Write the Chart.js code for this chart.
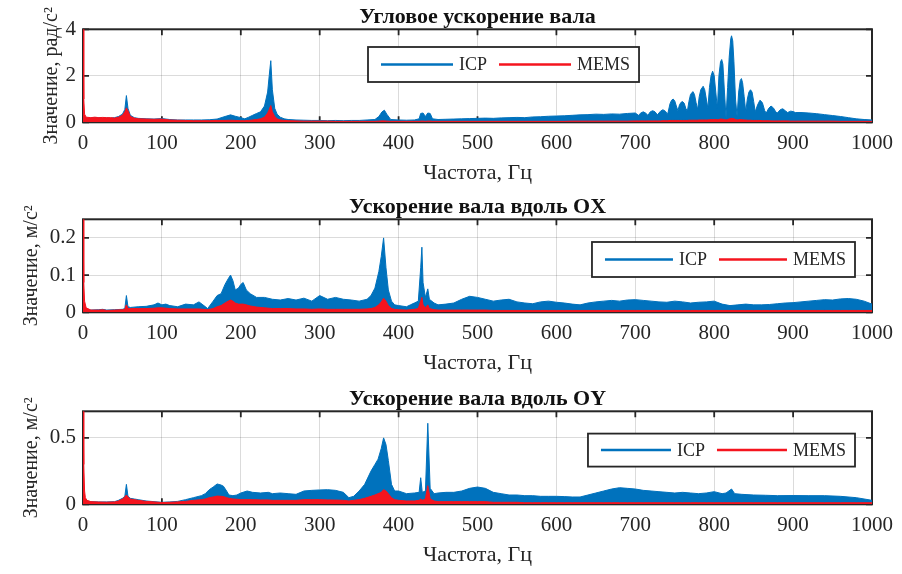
<!DOCTYPE html>
<html><head><meta charset="utf-8">
<script src="https://cdn.jsdelivr.net/npm/chart.js@4.4.1/dist/chart.umd.min.js"></script>
<style>
html,body{margin:0;padding:0;background:#fff;}
body{width:902px;height:574px;position:relative;overflow:hidden;}
canvas{position:absolute;left:0;}
</style></head><body>
<canvas id="c1" width="902" height="190" style="top:0px"></canvas>
<canvas id="c2" width="902" height="190" style="top:190px"></canvas>
<canvas id="c3" width="902" height="190" style="top:382px"></canvas>
<script>
// ---------- text ----------
const TITLES = ['Угловое ускорение вала', 'Ускорение вала вдоль OX', 'Ускорение вала вдоль OY'];
const Y_TITLES = ['Значение, рад/с²', 'Значение, м/с²', 'Значение, м/с²'];
const X_TITLE = 'Частота, Гц';
const SERIES = ['ICP', 'MEMS'];
const X_TICKS = [0,100,200,300,400,500,600,700,800,900,1000];
const Y_TICKS1 = [0,2,4];
const Y_TICKS2 = [0,0.1,0.2];
const Y_TICKS3 = [0,0.5];
const Y_MAX = [4, 0.25, 0.7];

// ---------- panel 1: angular acceleration ----------
const freq1 = [0,1,2,4,10,15,20,25,30,35,
  40,45,50,53,55,57,60,65,70,80,
  90,100,110,120,130,140,150,160,170,180,
  187,193,200,205,210,215,220,225,230,234,
  236,238,240,243,246,250,255,260,270,280,
  290,300,310,320,330,340,350,360,370,375,
  379,382,385,390,400,410,420,426,428,431,
  434,437,440,443,450,460,470,480,490,500,
  510,520,530,540,550,560,570,580,590,600,
  610,620,630,640,650,660,670,680,690,700,
  704,707,710,713,716,719,722,725,728,732,
  735,738,741,744,746,748,750,752,754,756,
  758,760,762,764,766,768,770,773,775,777,
  779,781,783,786,788,790,792,794,796,798,
  800,802,804,806,808,809.5,811,813,815,817,
  819,821,822,823.5,825,827,829,831,833,834.5,
  836,838,840,842,844,846,848,850,852,855,
  858,861,864,866,869,872,875,878,880,884,
  887,890,893,897,900,903,910,920,930,940,
  950,960,970,980,990,1000];
const icp1 = [0.3,0.25,0.2,0.18,0.18,0.2,0.2,0.18,0.19,0.18,
  0.2,0.25,0.35,0.55,1.15,0.6,0.3,0.2,0.17,0.15,
  0.14,0.16,0.12,0.1,0.1,0.1,0.1,0.11,0.14,0.25,
  0.32,0.26,0.2,0.15,0.22,0.3,0.38,0.45,0.7,1.3,
  2.0,2.65,1.4,0.6,0.35,0.22,0.15,0.12,0.1,0.09,
  0.08,0.08,0.07,0.08,0.07,0.08,0.08,0.1,0.12,0.25,
  0.45,0.52,0.35,0.12,0.1,0.09,0.1,0.15,0.38,0.4,
  0.25,0.4,0.38,0.15,0.12,0.13,0.14,0.15,0.16,0.17,
  0.18,0.17,0.19,0.2,0.21,0.2,0.23,0.24,0.26,0.27,
  0.28,0.3,0.32,0.33,0.35,0.34,0.36,0.35,0.38,0.4,
  0.3,0.4,0.45,0.4,0.3,0.45,0.5,0.45,0.32,0.48,
  0.54,0.48,0.35,0.8,0.95,1.0,0.92,0.7,0.5,0.75,
  0.86,0.89,0.82,0.6,0.48,0.9,1.2,1.32,1.2,0.85,
  0.55,1.1,1.4,1.55,1.4,1.0,0.6,1.5,2.0,2.2,
  2.0,1.3,0.6,2.0,2.6,2.7,2.5,1.3,0.2,1.5,
  2.8,3.6,3.72,3.5,2.6,1.0,0.25,1.3,1.8,1.88,
  1.7,1.1,0.45,1.0,1.3,1.4,1.3,0.9,0.45,0.75,
  0.95,0.85,0.5,0.4,0.6,0.7,0.62,0.45,0.4,0.55,
  0.58,0.5,0.42,0.48,0.46,0.42,0.42,0.4,0.37,0.33,
  0.29,0.25,0.2,0.15,0.12,0.1];
const mems1 = [4.0,1.0,0.35,0.22,0.2,0.22,0.2,0.21,0.2,0.2,
  0.18,0.22,0.3,0.45,0.62,0.5,0.25,0.18,0.15,0.14,
  0.13,0.14,0.1,0.09,0.08,0.07,0.07,0.07,0.08,0.08,
  0.09,0.08,0.07,0.07,0.08,0.1,0.12,0.15,0.22,0.4,
  0.55,0.72,0.45,0.25,0.15,0.1,0.08,0.07,0.06,0.05,
  0.05,0.05,0.05,0.04,0.04,0.04,0.04,0.04,0.04,0.05,
  0.06,0.06,0.05,0.04,0.04,0.04,0.04,0.04,0.05,0.05,
  0.04,0.05,0.05,0.04,0.04,0.04,0.04,0.04,0.04,0.04,
  0.04,0.04,0.04,0.04,0.04,0.04,0.04,0.04,0.04,0.04,
  0.04,0.05,0.05,0.05,0.05,0.05,0.05,0.05,0.05,0.06,
  0.06,0.06,0.06,0.06,0.06,0.06,0.06,0.06,0.06,0.06,
  0.07,0.07,0.07,0.08,0.08,0.08,0.08,0.08,0.08,0.08,
  0.08,0.08,0.08,0.08,0.08,0.09,0.09,0.09,0.09,0.09,
  0.09,0.1,0.1,0.1,0.1,0.1,0.1,0.11,0.12,0.12,
  0.12,0.12,0.11,0.12,0.14,0.14,0.13,0.12,0.1,0.12,
  0.14,0.16,0.17,0.16,0.15,0.12,0.1,0.11,0.12,0.12,
  0.11,0.1,0.1,0.09,0.09,0.09,0.08,0.08,0.08,0.08,
  0.08,0.07,0.07,0.07,0.07,0.06,0.06,0.06,0.06,0.06,
  0.06,0.06,0.06,0.05,0.05,0.05,0.05,0.05,0.05,0.05,
  0.05,0.04,0.04,0.04,0.04,0.04];

// ---------- panel 2: acceleration along OX ----------
const freq2 = [0,1,2,4,10,20,25,30,40,50,
  53,55,57,60,70,80,90,95,100,105,
  110,120,130,140,147,152,158,165,170,175,
  180,184,187,190,193,197,200,203,207,212,
  220,230,240,250,260,270,280,290,300,310,
  320,330,340,350,360,365,370,375,378,381,
  384,387,391,395,400,410,415,420,425,428,
  429.5,431,434,437,439,445,450,460,470,480,
  490,500,510,520,530,540,550,560,570,580,
  590,600,610,620,630,640,650,660,670,680,
  690,700,710,720,730,740,750,760,770,780,
  790,800,810,820,830,840,850,860,870,880,
  890,900,910,920,930,940,950,960,970,980,
  990,1000];
const icp2 = [0.01,0.01,0.008,0.007,0.006,0.007,0.008,0.006,0.007,0.008,
  0.01,0.045,0.015,0.013,0.015,0.016,0.02,0.025,0.02,0.022,
  0.018,0.015,0.022,0.02,0.028,0.02,0.01,0.03,0.045,0.05,
  0.075,0.09,0.1,0.085,0.06,0.065,0.075,0.08,0.06,0.05,
  0.04,0.04,0.035,0.033,0.037,0.033,0.038,0.03,0.045,0.035,
  0.04,0.035,0.033,0.03,0.035,0.045,0.065,0.11,0.15,0.2,
  0.12,0.06,0.03,0.02,0.018,0.015,0.02,0.025,0.03,0.12,
  0.175,0.08,0.04,0.063,0.035,0.025,0.02,0.022,0.025,0.035,
  0.043,0.04,0.035,0.03,0.033,0.035,0.028,0.025,0.023,0.028,
  0.03,0.027,0.025,0.022,0.02,0.025,0.028,0.03,0.032,0.03,
  0.033,0.034,0.032,0.03,0.028,0.027,0.03,0.028,0.025,0.027,
  0.028,0.03,0.022,0.018,0.02,0.022,0.02,0.02,0.021,0.023,
  0.025,0.026,0.028,0.03,0.032,0.034,0.033,0.036,0.037,0.035,
  0.03,0.022];
const mems2 = [0.25,0.08,0.03,0.012,0.006,0.006,0.007,0.005,0.006,0.007,
  0.008,0.02,0.01,0.01,0.01,0.01,0.011,0.012,0.012,0.011,
  0.01,0.009,0.009,0.009,0.009,0.008,0.007,0.01,0.015,0.018,
  0.025,0.03,0.033,0.03,0.025,0.022,0.022,0.022,0.02,0.017,
  0.014,0.012,0.01,0.01,0.01,0.009,0.009,0.008,0.009,0.008,
  0.008,0.008,0.008,0.008,0.009,0.01,0.013,0.02,0.028,0.038,
  0.03,0.018,0.01,0.008,0.007,0.006,0.007,0.008,0.01,0.03,
  0.04,0.02,0.012,0.02,0.01,0.007,0.006,0.006,0.006,0.006,
  0.006,0.006,0.006,0.005,0.005,0.005,0.005,0.005,0.005,0.005,
  0.005,0.005,0.005,0.005,0.005,0.005,0.005,0.005,0.005,0.005,
  0.005,0.005,0.005,0.005,0.005,0.005,0.005,0.005,0.005,0.005,
  0.005,0.005,0.005,0.005,0.005,0.005,0.005,0.005,0.005,0.005,
  0.005,0.005,0.005,0.005,0.005,0.005,0.005,0.005,0.005,0.005,
  0.005,0.005];

// ---------- panel 3: acceleration along OY ----------
const freq3 = [0,1,2,3,5,10,20,30,40,45,
  50,53,55,57,60,65,70,80,90,100,
  110,120,130,140,150,155,160,165,170,175,
  178,182,185,190,195,200,208,215,225,235,
  240,250,260,270,280,290,300,310,320,330,
  337,343,350,357,365,370,374,378,381,384,
  387,391,395,400,410,420,426,428,430,434,
  437,440,445,450,460,470,480,490,500,510,
  520,530,540,550,560,570,580,590,600,610,
  620,630,640,650,660,670,680,690,700,710,
  720,730,740,750,760,770,780,790,800,810,
  815,822,826,835,850,865,880,900,920,940,
  960,980,1000];
const icp3 = [0.05,0.04,0.035,0.03,0.025,0.02,0.018,0.018,0.02,0.03,
  0.045,0.06,0.15,0.06,0.045,0.04,0.035,0.025,0.02,0.015,
  0.018,0.022,0.035,0.05,0.065,0.08,0.11,0.13,0.153,0.145,
  0.136,0.1,0.07,0.065,0.07,0.085,0.1,0.09,0.085,0.09,
  0.08,0.085,0.08,0.075,0.1,0.105,0.108,0.11,0.105,0.09,
  0.05,0.06,0.1,0.15,0.25,0.3,0.34,0.42,0.5,0.45,
  0.33,0.15,0.1,0.1,0.08,0.085,0.09,0.2,0.09,0.1,
  0.61,0.12,0.08,0.085,0.09,0.09,0.1,0.12,0.13,0.12,
  0.09,0.08,0.07,0.07,0.065,0.065,0.06,0.06,0.06,0.058,
  0.055,0.055,0.07,0.085,0.1,0.115,0.125,0.12,0.115,0.105,
  0.1,0.095,0.09,0.085,0.09,0.085,0.08,0.085,0.095,0.08,
  0.085,0.115,0.08,0.075,0.07,0.068,0.065,0.066,0.065,0.065,
  0.06,0.05,0.03];
const mems3 = [0.7,0.3,0.1,0.05,0.03,0.02,0.017,0.016,0.018,0.025,
  0.04,0.055,0.07,0.055,0.04,0.035,0.03,0.022,0.018,0.013,
  0.015,0.018,0.022,0.03,0.035,0.04,0.05,0.055,0.062,0.06,
  0.058,0.05,0.045,0.04,0.038,0.035,0.035,0.035,0.033,0.033,
  0.03,0.03,0.03,0.03,0.035,0.035,0.035,0.033,0.032,0.03,
  0.025,0.03,0.035,0.045,0.06,0.07,0.08,0.09,0.11,0.1,
  0.08,0.05,0.035,0.03,0.025,0.025,0.03,0.04,0.03,0.04,
  0.14,0.04,0.025,0.02,0.02,0.02,0.02,0.02,0.02,0.02,
  0.015,0.015,0.015,0.015,0.012,0.012,0.012,0.012,0.012,0.012,
  0.012,0.012,0.012,0.012,0.012,0.012,0.012,0.012,0.012,0.012,
  0.012,0.012,0.012,0.012,0.012,0.012,0.012,0.012,0.012,0.012,
  0.012,0.012,0.012,0.012,0.012,0.012,0.012,0.012,0.012,0.012,
  0.012,0.012,0.012];

// ---------- styling ----------
const FONT = '"Liberation Serif","Times New Roman",serif';
const TXT = '#262626';
const BLUE = '#0072BD';
const RED = '#F5141E';
Chart.defaults.font.family = FONT;
Chart.defaults.color = TXT;

function xy(f, v) { return f.map((x, i) => ({ x: x, y: v[i] })); }

const frameTicksPlugin = {
  id: 'frameTicks',
  beforeDatasetsDraw(chart) {
    const { ctx, chartArea: a, scales } = chart;
    ctx.save();
    ctx.strokeStyle = TXT;
    ctx.lineWidth = 1.8;
    ctx.beginPath();
    scales.x.ticks.forEach(t => {
      const p = scales.x.getPixelForValue(t.value);
      ctx.moveTo(p, a.top); ctx.lineTo(p, a.top + 6);
      ctx.moveTo(p, a.bottom); ctx.lineTo(p, a.bottom - 6);
    });
    scales.y.ticks.forEach(t => {
      const p = scales.y.getPixelForValue(t.value);
      ctx.moveTo(a.left, p); ctx.lineTo(a.left + 6, p);
      ctx.moveTo(a.right, p); ctx.lineTo(a.right - 6, p);
    });
    ctx.stroke();
    ctx.lineWidth = 2;
    ctx.strokeRect(a.left, a.top, a.right - a.left, a.bottom - a.top);
    ctx.restore();
  }
};

const panelTitlePlugin = {
  id: 'panelTitle',
  afterDraw(chart, args, o) {
    const { ctx, chartArea: a } = chart;
    ctx.save();
    ctx.font = 'bold 22px ' + FONT;
    ctx.fillStyle = '#111';
    ctx.textAlign = 'center';
    ctx.textBaseline = 'alphabetic';
    ctx.fillText(o.text, (a.left + a.right) / 2, a.top - 6);
    ctx.restore();
  }
};

const boxLegendPlugin = {
  id: 'boxLegend',
  afterDatasetsDraw(chart, args, o) {
    const { ctx, chartArea: a } = chart;
    ctx.save();
    ctx.font = o.fontSize + 'px ' + FONT;
    const items = chart.data.datasets.map(d => ({ label: d.label, color: d.borderColor, w: ctx.measureText(d.label).width }));
    let W = o.padL + o.padR;
    items.forEach((it, i) => { W += o.lineLen + o.gapText + it.w + (i < items.length - 1 ? o.gapItem : 0); });
    const left = (o.anchor === 'left') ? o.x : o.x - W;
    const top = a.top + o.top;
    ctx.fillStyle = '#fff';
    ctx.fillRect(left, top, W, o.height);
    ctx.strokeStyle = TXT;
    ctx.lineWidth = 1.8;
    ctx.strokeRect(left, top, W, o.height);
    let x = left + o.padL;
    const cy = top + o.height / 2;
    items.forEach(it => {
      ctx.strokeStyle = it.color;
      ctx.lineWidth = 2.5;
      ctx.beginPath(); ctx.moveTo(x, cy); ctx.lineTo(x + o.lineLen, cy); ctx.stroke();
      x += o.lineLen + o.gapText;
      ctx.fillStyle = TXT;
      ctx.textAlign = 'left';
      ctx.textBaseline = 'middle';
      ctx.fillText(it.label, x, cy + 1);
      x += it.w + o.gapItem;
    });
    ctx.restore();
  }
};

function panel(id, p) {
  const tickFont = { family: FONT, size: 21 };
  return new Chart(document.getElementById(id), {
    type: 'line',
    data: {
      datasets: [
        { label: SERIES[0], data: xy(p.f, p.icp), borderColor: BLUE, backgroundColor: BLUE, fill: 'origin', borderWidth: 1, pointRadius: 0, tension: 0, order: 1 },
        { label: SERIES[1], data: xy(p.f, p.mems), borderColor: RED, backgroundColor: RED, fill: 'origin', borderWidth: 1, pointRadius: 0, tension: 0, order: 0 }
      ]
    },
    options: {
      responsive: false, animation: false, devicePixelRatio: 1, events: [],
      layout: { padding: { top: 29.3, left: 0, right: 25, bottom: 0 } },
      plugins: {
        legend: { display: false }, tooltip: { enabled: false }, title: { display: false },
        panelTitle: { text: p.title },
        boxLegend: p.legend
      },
      scales: {
        x: {
          type: 'linear', min: 0, max: 1000,
          afterBuildTicks: s => { s.ticks = X_TICKS.map(v => ({ value: v })); },
          afterFit: s => { s.height = 67.7; },
          ticks: { font: tickFont, color: TXT, padding: 9, maxRotation: 0, autoSkip: false, callback: v => String(v) },
          grid: { color: 'rgba(0,0,0,0.14)', lineWidth: 1, drawTicks: false },
          border: { display: false },
          title: { display: true, text: X_TITLE, font: { family: FONT, size: 22 }, color: TXT, padding: { top: 0, bottom: 4 } }
        },
        y: {
          type: 'linear', min: 0, max: p.ymax,
          afterBuildTicks: s => { s.ticks = p.yticks.map(v => ({ value: v })); },
          afterFit: s => { s.width = 83; },
          ticks: { font: tickFont, color: TXT, padding: 7, callback: v => String(v) },
          grid: { color: 'rgba(0,0,0,0.14)', lineWidth: 1, drawTicks: false },
          border: { display: false },
          title: { display: true, text: p.ytitle, font: { family: FONT, size: 20 }, color: TXT, padding: { top: p.ytitlePad, bottom: 0 } }
        }
      }
    },
    plugins: [frameTicksPlugin, panelTitlePlugin, boxLegendPlugin]
  });
}

const legendBase = { fontSize: 18, padL: 13, padR: 9, gapText: 6, gapItem: 12, height: 35 };

panel('c1', { f: freq1, icp: icp1, mems: mems1, ymax: Y_MAX[0], yticks: Y_TICKS1, title: TITLES[0], ytitle: Y_TITLES[0], ytitlePad: 40,
  legend: Object.assign({}, legendBase, { anchor: 'left', x: 368, top: 17.7, lineLen: 72 }) });
panel('c2', { f: freq2, icp: icp2, mems: mems2, ymax: Y_MAX[1], yticks: Y_TICKS2, title: TITLES[1], ytitle: Y_TITLES[1], ytitlePad: 20,
  legend: Object.assign({}, legendBase, { anchor: 'right', x: 855, top: 22.7, lineLen: 68 }) });
panel('c3', { f: freq3, icp: icp3, mems: mems3, ymax: Y_MAX[2], yticks: Y_TICKS3, title: TITLES[2], ytitle: Y_TITLES[2], ytitlePad: 20,
  legend: Object.assign({}, legendBase, { anchor: 'right', x: 855, top: 22.3, lineLen: 70, height: 33 }) });
</script>
</body></html>
